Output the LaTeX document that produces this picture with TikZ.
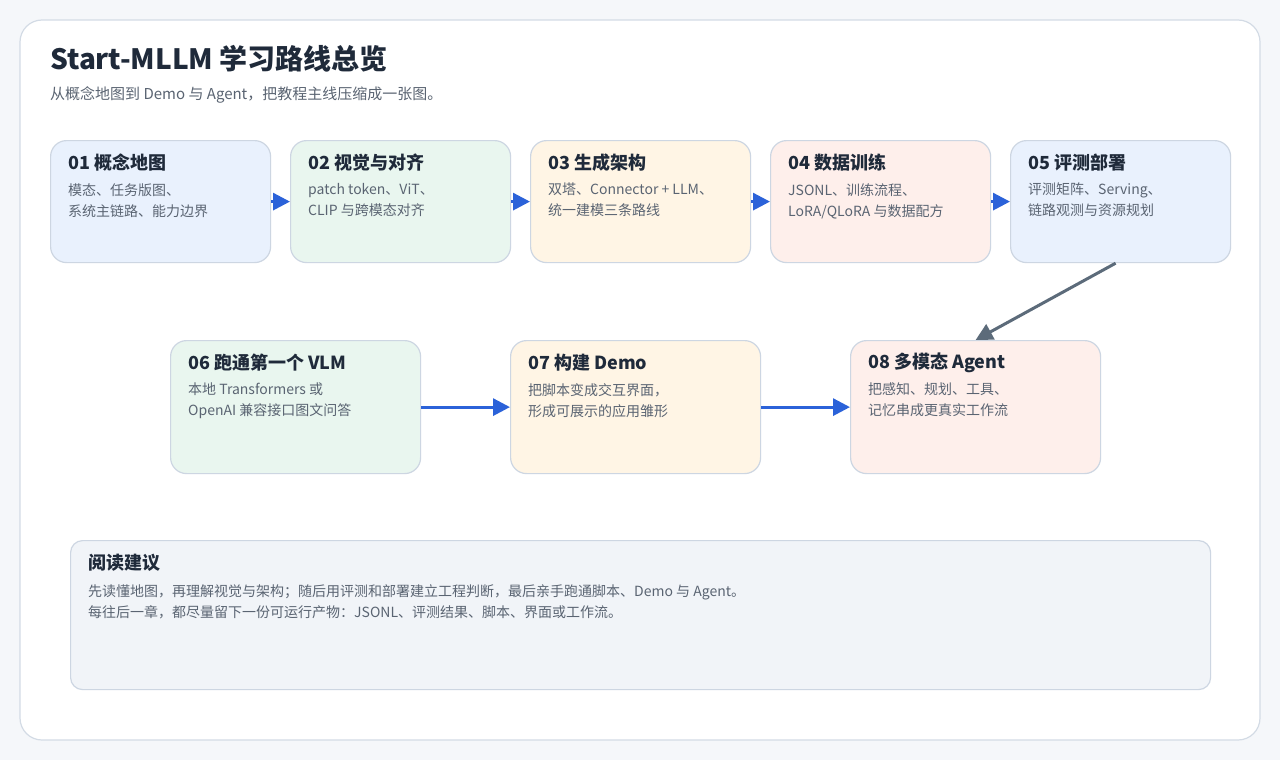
\documentclass[tikz,border=0pt]{standalone}
\usepackage{fontspec}
\setmainfont{Noto Sans CJK SC}
\usetikzlibrary{arrows.meta,calc}
\definecolor{bgc}{HTML}{F5F7FA}
\definecolor{cardline}{HTML}{D3DBE5}
\definecolor{boxline}{HTML}{CDD6E2}
\definecolor{fblue}{HTML}{E9F1FD}
\definecolor{fgreen}{HTML}{E9F6EF}
\definecolor{fcream}{HTML}{FFF5E5}
\definecolor{fpink}{HTML}{FEEFEB}
\definecolor{fgray}{HTML}{F1F4F8}
\definecolor{ink}{HTML}{1F2A3A}
\definecolor{sub}{HTML}{5A6472}
\definecolor{arrblue}{HTML}{2B62D9}
\definecolor{arrgray}{HTML}{5C6B7A}
\tikzset{
  stepbox/.style={draw=boxline, line width=1.2pt, rounded corners=16pt, anchor=north west, inner sep=0pt},
  ttl/.style={anchor=west, inner sep=0pt, text=ink, font=\fontsize{18}{22}\selectfont\bfseries},
  desc/.style={anchor=north west, inner sep=0pt, text=sub, align=left, font=\fontsize{14}{21}\selectfont},
  arrb/.style={draw=arrblue, line width=3pt, -{Triangle[length=17pt,width=17pt]}},
  arrg/.style={draw=arrgray, line width=3pt, -{Triangle[length=17pt,width=17pt]}},
}
\begin{document}
\begin{tikzpicture}[x=1pt,y=-1pt]
\useasboundingbox (0,0) rectangle (1280,760);
\fill[bgc] (0,0) rectangle (1280,760);
\draw[draw=cardline, fill=white, line width=1.2pt, rounded corners=22pt] (20,20) rectangle (1260,740);

\node[anchor=west, inner sep=0pt, text=ink, font=\fontsize{28}{32}\selectfont\bfseries] (title) at (50,59) {Start-MLLM 学习路线总览};
\node[anchor=west, inner sep=0pt, text=sub, font=\fontsize{15}{18}\selectfont] (subtitle) at (50,95) {从概念地图到 Demo 与 Agent，把教程主线压缩成一张图。};

% row 1
\node[stepbox, fill=fblue, minimum width=220pt, minimum height=122pt] (b1) at (50,140) {};
\node[stepbox, fill=fgreen, minimum width=220pt, minimum height=122pt] (b2) at (290,140) {};
\node[stepbox, fill=fcream, minimum width=220pt, minimum height=122pt] (b3) at (530,140) {};
\node[stepbox, fill=fpink, minimum width=220pt, minimum height=122pt] (b4) at (770,140) {};
\node[stepbox, fill=fblue, minimum width=220pt, minimum height=122pt] (b5) at (1010,140) {};

\node[ttl] (t1) at ($(b1.north west)+(18,23)$) {01 概念地图};
\node[desc] (d1) at ($(b1.north west)+(18,43)$) {模态、任务版图、\\系统主链路、能力边界};
\node[ttl] (t2) at ($(b2.north west)+(18,23)$) {02 视觉与对齐};
\node[desc] (d2) at ($(b2.north west)+(18,43)$) {patch token、ViT、\\CLIP 与跨模态对齐};
\node[ttl] (t3) at ($(b3.north west)+(18,23)$) {03 生成架构};
\node[desc] (d3) at ($(b3.north west)+(18,43)$) {双塔、Connector + LLM、\\统一建模三条路线};
\node[ttl] (t4) at ($(b4.north west)+(18,23)$) {04 数据训练};
\node[desc] (d4) at ($(b4.north west)+(18,43)$) {JSONL、训练流程、\\LoRA/QLoRA 与数据配方};
\node[ttl] (t5) at ($(b5.north west)+(18,23)$) {05 评测部署};
\node[desc] (d5) at ($(b5.north west)+(18,43)$) {评测矩阵、Serving、\\链路观测与资源规划};

% row 2
\node[stepbox, fill=fgreen, minimum width=250pt, minimum height=133pt] (b6) at (170,340) {};
\node[stepbox, fill=fcream, minimum width=250pt, minimum height=133pt] (b7) at (510,340) {};
\node[stepbox, fill=fpink, minimum width=250pt, minimum height=133pt] (b8) at (850,340) {};

\node[ttl] (t6) at ($(b6.north west)+(18,23)$) {06 跑通第一个 VLM};
\node[desc] (d6) at ($(b6.north west)+(18,43)$) {本地 Transformers 或\\OpenAI 兼容接口图文问答};
\node[ttl] (t7) at ($(b7.north west)+(18,23)$) {07 构建 Demo};
\node[desc] (d7) at ($(b7.north west)+(18,43)$) {把脚本变成交互界面，\\形成可展示的应用雏形};
\node[ttl] (t8) at ($(b8.north west)+(18,23)$) {08 多模态 Agent};
\node[desc] (d8) at ($(b8.north west)+(18,43)$) {把感知、规划、工具、\\记忆串成更真实工作流};

% bottom note
\node[draw=boxline, line width=1.2pt, rounded corners=12pt, fill=fgray, anchor=north west, inner sep=0pt, minimum width=1140pt, minimum height=149pt] (note) at (70,540) {};
\node[ttl] (nt) at ($(note.north west)+(18,23)$) {阅读建议};
\node[desc] (nd) at ($(note.north west)+(18,44)$) {先读懂地图，再理解视觉与架构；随后用评测和部署建立工程判断，最后亲手跑通脚本、Demo 与 Agent。\\每往后一章，都尽量留下一份可运行产物：JSONL、评测结果、脚本、界面或工作流。};

% connectors
\draw[arrb] (b1.east) -- (b2.west);
\draw[arrb] (b2.east) -- (b3.west);
\draw[arrb] (b3.east) -- (b4.west);
\draw[arrb] (b4.east) -- (b5.west);
\draw[arrg] ([xshift=-5pt]b5.south) -- (b8.north);
\draw[arrb] (b6.east) -- (b7.west);
\draw[arrb] (b7.east) -- (b8.west);
\end{tikzpicture}
\end{document}
